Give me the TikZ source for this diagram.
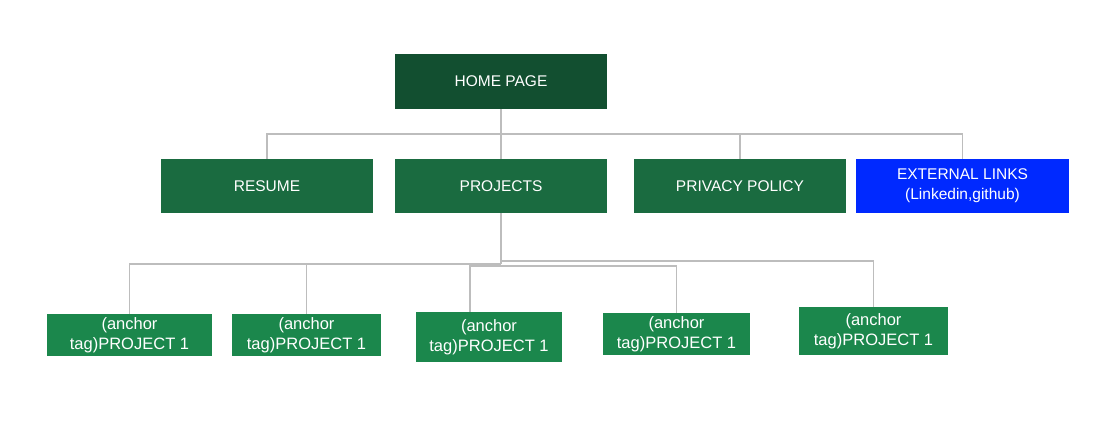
\documentclass[tikz,border=0pt]{standalone}
\usepackage{fontspec}
\setmainfont{Liberation Sans}
\definecolor{homeg}{HTML}{124F30}
\definecolor{midg}{HTML}{1A6B40}
\definecolor{lowg}{HTML}{1B874C}
\definecolor{extb}{HTML}{0029FF}
\definecolor{conn}{HTML}{BDBDBD}
\begin{document}
\begin{tikzpicture}[x=1pt,y=-1pt,
  box/.style={draw=none,inner sep=0pt,text=white,align=center,font=\fontsize{15.5}{20}\selectfont},
  lowbox/.style={box,font=\fontsize{16.5}{20}\selectfont},
  link/.style={draw=conn,line width=1.2pt}]
\useasboundingbox (0,0) rectangle (1104,440);
\newcommand{\mybox}[8]{%
  \fill[#6] (#2,#3) rectangle (#4,#5);
  \node[#8,minimum width={#4-#2},minimum height={#5-#3}] (#1) at ({(#2+#4)/2},{(#3+#5)/2}) {#7};}
\mybox{home}{395}{54}{607}{109}{homeg}{HOME PAGE}{box}
\mybox{resume}{161}{159}{373}{213}{midg}{RESUME}{box}
\mybox{proj}{395}{159}{607}{213}{midg}{PROJECTS}{box}
\mybox{priv}{634}{159}{846}{213}{midg}{PRIVACY POLICY}{box}
\mybox{ext}{856}{159}{1069}{213}{extb}{EXTERNAL LINKS\\(Linkedin,github)}{box}
\mybox{p1}{47}{314}{212}{356}{lowg}{(anchor\\tag)PROJECT 1}{lowbox}
\mybox{p2}{232}{314}{381}{356}{lowg}{(anchor\\tag)PROJECT 1}{lowbox}
\mybox{p3}{416}{312}{562}{362}{lowg}{(anchor\\tag)PROJECT 1}{lowbox}
\mybox{p4}{603}{313}{750}{355}{lowg}{(anchor\\tag)PROJECT 1}{lowbox}
\mybox{p5}{799}{307}{948}{355}{lowg}{(anchor\\tag)PROJECT 1}{lowbox}
% connectors level 1
\coordinate (h1) at (501,134);
\draw[link] (home.south) -- (h1);
\draw[link] (h1) -| (resume.north);
\draw[link] (h1) -- (proj.north);
\draw[link] (h1) -| (priv.north);
\draw[link] (h1) -| (ext.north);
% connectors level 2
\coordinate (j1) at (501,264);
\coordinate (j2) at (501,261);
\draw[link] (proj.south) -- (j1);
\draw[link] (j1) -| (p1.north);
\draw[link] (j1) -| (p2.north);
\draw[link] (j2) -| (p5.north);
\coordinate (p3t) at (470,312);
\coordinate (k3) at (470,266);
\draw[link] (p3t) -- (k3) -| (p4.north);
\end{tikzpicture}
\end{document}
